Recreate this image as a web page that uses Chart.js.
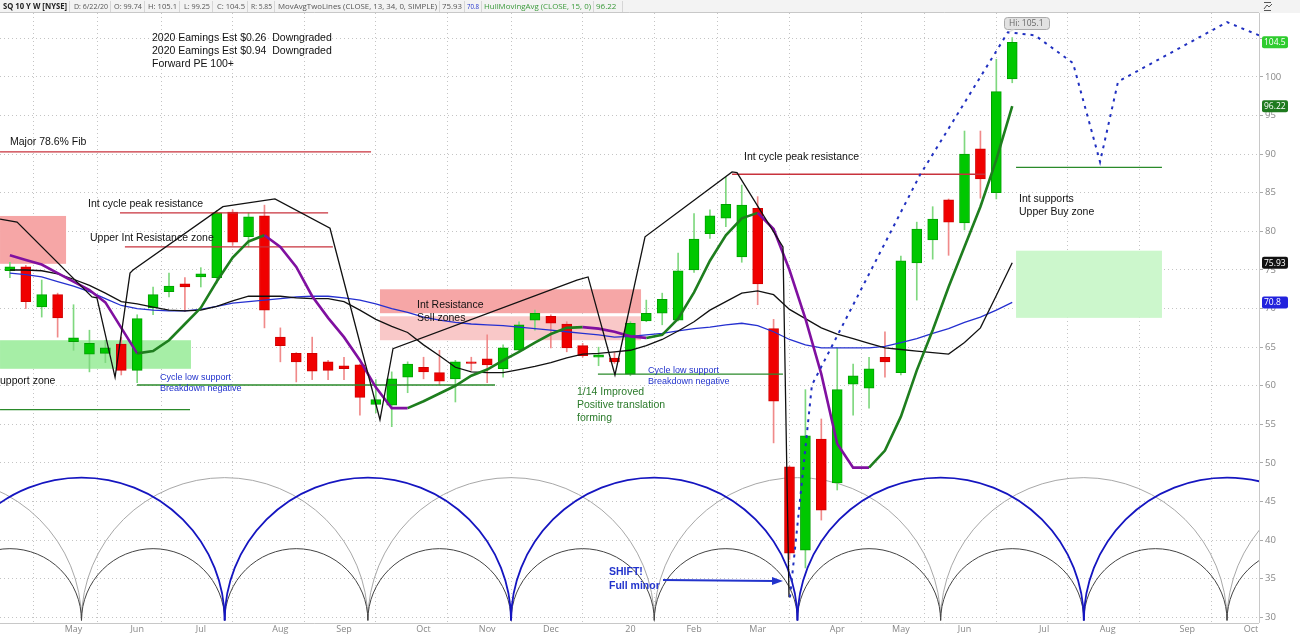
<!DOCTYPE html>
<html>
<head>
<meta charset="utf-8">
<script src="https://cdn.jsdelivr.net/npm/chart.js@4/dist/chart.umd.min.js"></script>
<style>
  html, body { margin: 0; padding: 0; background: #fff; }
  canvas { display: block; }
</style>
</head>
<body>
<canvas id="chart" width="1300" height="635" style="width:1300px;height:635px"></canvas>
<script>
// weekly bars, index 0 = week of 2019-04-08, index 63 = week of 2020-06-22
const monthTickIdx = [4, 8, 12, 17, 21, 26, 30, 34, 39, 43, 47, 52, 56, 60, 65, 69, 74, 78];
const monthTickLbl = ["May", "Jun", "Jul", "Aug", "Sep", "Oct", "Nov", "Dec", "20", "Feb", "Mar", "Apr", "May", "Jun", "Jul", "Aug", "Sep", "Oct"];
const priceTicks = [30, 35, 40, 45, 50, 55, 60, 65, 70, 75, 80, 85, 90, 95, 100, 105];

const open = [74.9, 75.4, 70.2, 71.8, 65.7, 64.1, 64.2, 65.4, 62.0, 70.1,
  72.2, 73.2, 74.1, 74.0, 82.5, 79.3, 82.0, 66.3, 64.2, 64.2,
  63.1, 62.6, 62.7, 57.6, 57.5, 61.1, 62.4, 61.7, 60.9, 63.1,
  63.5, 62.2, 64.6, 68.5, 69.0, 68.0, 65.2, 63.7, 63.6, 61.5,
  68.4, 69.4, 68.5, 75.0, 79.7, 81.7, 76.7, 83.0, 67.4, 49.5,
  38.7, 53.1, 47.4, 60.2, 59.7, 63.7, 61.7, 75.9, 78.9, 84.1,
  81.1, 90.7, 85.0, 99.74];
const high = [76.0, 75.6, 73.7, 72.0, 70.5, 67.2, 65.9, 66.3, 69.2, 72.8,
  74.6, 74.0, 75.3, 82.7, 82.8, 82.4, 83.4, 67.5, 64.3, 66.3,
  63.3, 63.7, 62.8, 60.8, 61.8, 63.1, 63.7, 64.6, 63.3, 63.7,
  66.6, 65.3, 68.3, 69.8, 69.2, 68.3, 65.5, 65.0, 64.3, 68.3,
  71.1, 72.0, 77.2, 82.3, 82.8, 87.0, 86.0, 84.5, 68.6, 49.6,
  59.5, 55.7, 64.9, 62.8, 63.7, 67.0, 76.8, 81.2, 83.2, 84.2,
  93.0, 93.0, 102.3, 105.1];
const low = [74.0, 70.0, 68.9, 66.3, 64.6, 61.8, 63.0, 61.4, 60.4, 69.2,
  71.5, 69.6, 72.8, 73.3, 78.2, 78.0, 67.5, 63.1, 60.5, 60.8,
  60.8, 60.8, 56.2, 56.5, 54.7, 59.1, 60.9, 60.1, 57.9, 62.0,
  60.4, 61.1, 64.4, 67.2, 64.9, 64.4, 63.7, 62.6, 62.9, 61.3,
  68.3, 67.9, 68.4, 74.7, 79.1, 80.6, 76.0, 70.5, 52.6, 37.5,
  36.4, 42.6, 46.5, 56.2, 57.1, 61.1, 61.4, 71.1, 76.4, 76.9,
  80.2, 84.3, 84.2, 99.25];
const close = [75.4, 70.9, 71.8, 68.8, 66.2, 65.5, 64.9, 62.0, 68.7, 71.8,
  72.9, 72.8, 74.5, 82.4, 78.6, 81.9, 69.8, 65.2, 63.1, 61.9,
  62.0, 62.2, 58.5, 58.2, 60.9, 62.8, 61.8, 60.6, 63.1, 62.9,
  62.7, 64.9, 67.9, 69.4, 68.1, 64.9, 63.9, 64.0, 63.1, 68.1,
  69.4, 71.2, 74.9, 79.0, 82.0, 83.5, 83.4, 73.2, 58.0, 38.3,
  53.5, 43.9, 59.5, 61.3, 62.2, 63.1, 76.2, 80.3, 81.6, 81.2,
  90.0, 86.8, 98.1, 104.5];

const sma13 = [75.0, 75.0, 74.9, 74.5, 73.8, 73.0, 72.0, 70.9, 70.6, 70.2,
  69.8, 69.7, 69.8, 70.3, 71.0, 71.6, 71.6, 71.6, 71.4, 71.3,
  71.3, 70.9, 69.8, 68.6, 67.7, 66.9, 65.3, 63.9, 62.4, 61.8,
  61.7, 61.7, 62.1, 62.5, 63.0, 63.6, 64.1, 64.2, 64.4, 64.6,
  65.2, 66.0, 67.1, 68.3, 69.8, 70.9, 72.0, 72.3, 71.8, 69.9,
  68.7, 67.5, 66.7, 66.1, 65.5, 64.9, 64.7, 64.5, 64.3, 64.1,
  65.6, 67.5, 71.7, 75.93];
const sma34 = [74.6, 74.4, 74.1, 73.5, 72.9, 72.2, 71.3, 70.4, 70.0, 69.8,
  69.7, 69.7, 69.9, 70.3, 70.7, 70.9, 71.1, 71.3, 71.5, 71.6,
  71.6, 71.4, 71.1, 70.6, 70.0, 69.5, 68.9, 68.5, 68.2, 68.0,
  67.9, 67.8, 67.6, 67.4, 67.2, 67.0, 66.8, 66.6, 66.3, 66.4,
  66.6, 66.8, 67.1, 67.4, 67.6, 67.9, 68.1, 67.8, 67.0, 66.0,
  65.3, 64.9, 64.9, 64.9, 64.9, 65.1, 65.6, 66.1, 66.8, 67.4,
  68.2, 68.9, 69.8, 70.8];
const hull15 = [76.9, 76.3, 75.7, 74.6, 73.5, 72.4, 70.8, 67.5, 64.2, 64.5,
  65.9, 68.0, 70.1, 73.5, 76.6, 78.7, 79.5, 78.0, 75.4, 71.6,
  68.8, 66.3, 63.3, 59.8, 57.1, 57.1, 58.0, 59.0, 60.0, 61.3,
  62.1, 63.3, 64.4, 65.6, 66.7, 67.5, 67.6, 67.4, 67.0, 66.4,
  66.2, 66.6, 68.7, 72.1, 76.2, 79.5, 81.7, 82.4, 80.3, 75.0,
  68.7, 61.5, 52.5, 49.4, 49.4, 51.6, 56.0, 62.0, 67.2, 72.8,
  78.0, 83.2, 89.3, 96.22];

// hand drawn annotations, in (week index, price)
const cycleLine = [[-0.62, 81.6], [0.45, 81.2], [5.16, 71.5], [5.47, 71.4], [6.61, 61.1], [7.55, 74.6],
  [7.74, 75.0], [13.39, 83.2], [16.66, 84.2], [20.12, 80.4], [23.26, 55.6], [24.08, 64.8],
  [35.64, 73.7], [36.34, 74.1], [38.03, 61.4], [39.92, 79.3], [45.39, 87.7], [45.7, 87.6],
  [48.59, 78.0], [48.97, 32.6]];
const projection = [[49.03, 32.6], [50.41, 60.1], [57.2, 87.3], [62.73, 105.8], [64.43, 105.4],
  [66.82, 101.8], [68.52, 89.0], [69.65, 99.4], [76.5, 107.1], [78.51, 105.4]];
const levelLines = [
  [-0.62, 22.7, 90.3, "#c8323c"],
  [6.92, 20.0, 82.4, "#c8323c"],
  [7.23, 20.3, 78.0, "#c8323c"],
  [45.39, 61.29, 87.4, "#c8323c"],
  [-0.62, 11.32, 56.9, "#2a8a2a"],
  [7.99, 30.49, 60.1, "#2a8a2a"],
  [36.96, 48.59, 61.5, "#2a8a2a"],
  [63.24, 72.41, 88.3, "#2a8a2a"]
];
const zones = [
  [-0.62, 3.53, 82.0, 75.8, "#f6a6a6"],
  [-0.62, 11.38, 65.9, 62.2, "#a6eea6"],
  [23.26, 39.67, 72.5, 69.4, "#f6a6a6"],
  [23.26, 39.67, 69.0, 65.9, "#f9c8c8"],
  [63.24, 72.41, 77.5, 68.8, "#ccf7cc"]
];
// cycle troughs (week index)
const blueTroughs = [-4.5, 13.5, 31.5, 49.5, 67.5, 85.5];
const grayTroughs = [-13.5, 4.5, 22.5, 40.5, 58.5, 76.5, 94.5];
const blackTroughs = [-4.5, 4.5, 13.5, 22.5, 31.5, 40.5, 49.5, 58.5, 67.5, 76.5, 85.5];

const UP = "#00c800", DOWN = "#f00000";
const isUp = close.map((c, i) => c >= open[i]);

const F = "10.5px 'Liberation Sans'", FS = "9px 'Liberation Sans'", FB = "bold 10.5px 'Liberation Sans'";
const notes = [
  ["2020 Eamings Est $0.26  Downgraded", 152, 38, F, "#111"],
  ["2020 Eamings Est $0.94  Downgraded", 152, 51, F, "#111"],
  ["Forward PE 100+", 152, 64, F, "#111"],
  ["Major 78.6% Fib", 10, 142, F, "#111"],
  ["Int cycle peak resistance", 88, 204, F, "#111"],
  ["Upper Int Resistance zone", 90, 238, F, "#111"],
  ["Support zone", -7, 381, F, "#111"],
  ["Cycle low support", 160, 378, FS, "#2233cc"],
  ["Breakdown negative", 160, 389, FS, "#2233cc"],
  ["Int Resistance", 417, 305, F, "#111"],
  ["Sell zones", 417, 318, F, "#111"],
  ["1/14 Improved", 577, 392, F, "#2a7a2a"],
  ["Positive translation", 577, 405, F, "#2a7a2a"],
  ["forming", 577, 418, F, "#2a7a2a"],
  ["Cycle low support", 648, 371, FS, "#2233cc"],
  ["Breakdown negative", 648, 382, FS, "#2233cc"],
  ["Int cycle peak resistance", 744, 157, F, "#111"],
  ["Int supports", 1019, 199, F, "#111"],
  ["Upper Buy zone", 1019, 212, F, "#111"],
  ["SHIFT!", 609, 572, FB, "#2233cc"],
  ["Full minor", 609, 586, FB, "#2233cc"]
];

const header = [
  [3, "SQ 10 Y W [NYSE]", "#222", true], [74, "D: 6/22/20"], [114, "O: 99.74"], [148, "H: 105.1"],
  [184, "L: 99.25"], [217, "C: 104.5"], [251, "R: 5.85"],
  [278, "MovAvgTwoLines (CLOSE, 13, 34, 0, SIMPLE)"], [442, "75.93"], [467, "70.8", "#2233cc"],
  [484, "HullMovingAvg (CLOSE, 15, 0)", "#3a9a3a"], [596, "96.22", "#3a9a3a"]
];
const headerSeps = [69, 110, 144, 179, 212, 247, 274, 439, 464, 481, 593, 622];

const lastTags = [
  [104.5, "104.5", "#2ecc2e"],
  [96.22, "96.22", "#1f7a1f"],
  [75.93, "75.93", "#111"],
  [70.8, "70.8", "#2222dd"]
];

const pts = arr => arr.map(p => ({ x: p[0], y: p[1] }));

const annotate = {
  id: "annotate",
  beforeDraw(chart) {
    const ctx = chart.ctx;
    ctx.save();
    ctx.fillStyle = "#fff";
    ctx.fillRect(0, 0, chart.width, chart.height);
    ctx.restore();
  },
  beforeDatasetsDraw(chart) {
    const { ctx, chartArea: a, scales: { x, y } } = chart;
    ctx.save();
    ctx.beginPath();
    ctx.rect(a.left, a.top, a.right - a.left, a.bottom - a.top);
    ctx.clip();
    zones.forEach(z => {
      ctx.fillStyle = z[4];
      const x0 = x.getPixelForValue(z[0]), x1 = x.getPixelForValue(z[1]);
      const y0 = y.getPixelForValue(z[2]), y1 = y.getPixelForValue(z[3]);
      ctx.fillRect(x0, y0, x1 - x0, y1 - y0);
    });
    const base = 29.6;
    const arcs = (troughs, peak, color, lw) => {
      ctx.strokeStyle = color;
      ctx.lineWidth = lw;
      for (let k = 0; k < troughs.length - 1; k++) {
        const cx = x.getPixelForValue((troughs[k] + troughs[k + 1]) / 2);
        const rx = x.getPixelForValue(troughs[k + 1]) - cx;
        const cy = y.getPixelForValue(base);
        const ry = cy - y.getPixelForValue(peak);
        ctx.beginPath();
        ctx.ellipse(cx, cy, rx, ry, 0, Math.PI, 2 * Math.PI);
        ctx.stroke();
      }
    };
    arcs(grayTroughs, 48.1, "#a8a8a8", 1);
    arcs(blackTroughs, 38.9, "#444", 1);
    arcs(blueTroughs, 48.1, "#1515c0", 1.8);
    ctx.restore();
  },
  afterDatasetsDraw(chart) {
    const { ctx } = chart;
    ctx.save();
    ctx.textBaseline = "middle";
    ctx.textAlign = "left";
    notes.forEach(n => {
      ctx.font = n[3];
      ctx.fillStyle = n[4];
      ctx.fillText(n[0], n[1], n[2]);
    });
    // SHIFT arrow
    ctx.strokeStyle = "#2233cc";
    ctx.fillStyle = "#2233cc";
    ctx.lineWidth = 2;
    ctx.beginPath();
    ctx.moveTo(663, 580);
    ctx.lineTo(774, 581);
    ctx.stroke();
    ctx.beginPath();
    ctx.moveTo(783, 581);
    ctx.lineTo(772, 577);
    ctx.lineTo(772, 585);
    ctx.closePath();
    ctx.fill();
    // Hi bubble
    const bx = 1004, by = 17, bw = 45, bh = 12;
    ctx.fillStyle = "#e2e2e2";
    ctx.strokeStyle = "#aaa";
    ctx.lineWidth = 1;
    ctx.beginPath();
    ctx.roundRect(bx + 0.5, by + 0.5, bw, bh, 3);
    ctx.fill();
    ctx.stroke();
    ctx.beginPath();
    ctx.moveTo(bx + 7, by + bh + 0.5);
    ctx.lineTo(bx + 5, by + bh + 4);
    ctx.lineTo(bx + 11, by + bh + 0.5);
    ctx.fill();
    ctx.fillStyle = "#666";
    ctx.font = "8.5px 'Open Sans'";
    ctx.fillText("Hi: 105.1", bx + 5, by + 6.5);
    ctx.restore();
  },
  afterDraw(chart) {
    const { ctx, chartArea: a, scales: { y } } = chart;
    ctx.save();
    // header strip
    ctx.fillStyle = "#f3f3f3";
    ctx.fillRect(0, 0, chart.width, a.top);
    ctx.strokeStyle = "#c8c8c8";
    ctx.lineWidth = 1;
    ctx.beginPath();
    ctx.moveTo(0, a.top - 0.5);
    ctx.lineTo(a.right, a.top - 0.5);
    ctx.moveTo(a.right + 0.5, a.top);
    ctx.lineTo(a.right + 0.5, a.bottom);
    ctx.moveTo(0, a.bottom + 0.5);
    ctx.lineTo(a.right, a.bottom + 0.5);
    ctx.stroke();
    ctx.strokeStyle = "#d6d6d6";
    ctx.beginPath();
    headerSeps.forEach(sx => { ctx.moveTo(sx + 0.5, 1); ctx.lineTo(sx + 0.5, a.top - 1); });
    ctx.stroke();
    ctx.textBaseline = "middle";
    header.forEach(h => {
      ctx.font = (h[3] ? "bold " : "") + "8px 'Open Sans'";
      ctx.fillStyle = h[2] || "#555";
      const nextSep = headerSeps.find(s => s > h[0]) || h[0] + 40;
      ctx.fillText(h[1], h[0], 6.5, nextSep - h[0] - 2);
    });
    // small icon top right
    ctx.strokeStyle = "#555";
    ctx.beginPath();
    ctx.moveTo(1264, 2.5); ctx.lineTo(1271, 2.5);
    ctx.moveTo(1264, 10.5); ctx.lineTo(1271, 10.5);
    ctx.moveTo(1264, 9); ctx.lineTo(1267, 5); ctx.lineTo(1269, 7); ctx.lineTo(1272, 4);
    ctx.stroke();
    // last value tags
    ctx.font = "8.5px 'Open Sans'";
    lastTags.forEach(t => {
      const ty = y.getPixelForValue(t[0]);
      ctx.fillStyle = t[2];
      ctx.beginPath();
      ctx.roundRect(a.right + 3, ty - 6, 26, 12, 2);
      ctx.fill();
      ctx.fillStyle = "#fff";
      ctx.fillText(t[1], a.right + 5, ty + 0.5);
    });
    ctx.restore();
  }
};

new Chart(document.getElementById("chart"), {
  type: "bar",
  data: {
    datasets: [
      {
        type: "line", data: pts(projection), borderColor: "#2030c0", borderWidth: 2,
        borderDash: [3, 5], pointRadius: 0, order: 0
      },
      {
        type: "line", data: pts(cycleLine), borderColor: "#111", borderWidth: 1.3,
        pointRadius: 0, order: 0
      },
      {
        type: "line", data: hull15.map((v, i) => ({ x: i, y: v })), borderWidth: 2.6,
        borderColor: "#1e7e1e", pointRadius: 0, order: 1,
        segment: { borderColor: c => (c.p1.parsed.y <= c.p0.parsed.y ? "#8010a0" : "#1e7e1e") }
      },
      {
        type: "line", data: sma13.map((v, i) => ({ x: i, y: v })), borderColor: "#111",
        borderWidth: 1.3, pointRadius: 0, order: 2
      },
      {
        type: "line", data: sma34.map((v, i) => ({ x: i, y: v })), borderColor: "#2530d0",
        borderWidth: 1.3, pointRadius: 0, order: 3
      },
      ...levelLines.map(l => ({
        type: "line", data: [{ x: l[0], y: l[2] }, { x: l[1], y: l[2] }], borderColor: l[3],
        borderWidth: 1.3, pointRadius: 0, order: 4
      })),
      {
        type: "bar", data: open.map((o, i) => ({ x: i, y: [o, close[i]] })),
        backgroundColor: isUp.map(u => (u ? UP : DOWN)),
        borderColor: isUp.map(u => (u ? "#00a000" : "#d00000")),
        borderWidth: 1, borderSkipped: false, barThickness: 10, grouped: false, order: 5
      },
      {
        type: "bar", data: low.map((l, i) => ({ x: i, y: [l, high[i]] })),
        backgroundColor: isUp.map(u => (u ? "#7fd87f" : "#f08a8a")),
        borderWidth: 0, barThickness: 1, grouped: false, order: 6
      }
    ]
  },
  options: {
    responsive: false,
    devicePixelRatio: 1,
    animation: false,
    layout: { padding: { top: 13, left: 0, right: 0, bottom: 0 } },
    plugins: { legend: { display: false }, tooltip: { enabled: false } },
    scales: {
      x: {
        type: "linear", position: "bottom", min: -0.622, max: 78.51, offset: false,
        grid: { display: false, drawTicks: false }, border: { display: false },
        afterBuildTicks: s => { s.ticks = monthTickIdx.map(v => ({ value: v })); },
        ticks: {
          autoSkip: false, maxRotation: 0, padding: 1, color: "#888",
          font: { family: "'Open Sans'", size: 9 },
          callback: (v, i) => monthTickLbl[i]
        },
        afterFit: s => { s.height = 12; }
      },
      xg: {
        type: "linear", position: "bottom", min: -0.622, max: 78.51, offset: false,
        grid: { color: "#c4c4c4", drawTicks: false },
        border: { display: false, dash: [1, 3] },
        ticks: { display: false },
        afterBuildTicks: s => { s.ticks = monthTickIdx.map(v => ({ value: v - 0.5 })); },
        afterFit: s => { s.height = 0; }
      },
      y: {
        type: "linear", position: "right", min: 29.27, max: 108.29,
        grid: { color: "#c4c4c4", tickLength: 4, tickColor: "#aaa" },
        border: { display: false, dash: [1, 3] },
        afterBuildTicks: s => { s.ticks = priceTicks.map(v => ({ value: v })); },
        ticks: {
          color: "#888", padding: 2, font: { family: "'Open Sans'", size: 9.5 },
          callback: v => (v > 100 ? "" : v)
        },
        afterFit: s => { s.width = 41; }
      }
    }
  },
  plugins: [annotate]
});
</script>
</body>
</html>
